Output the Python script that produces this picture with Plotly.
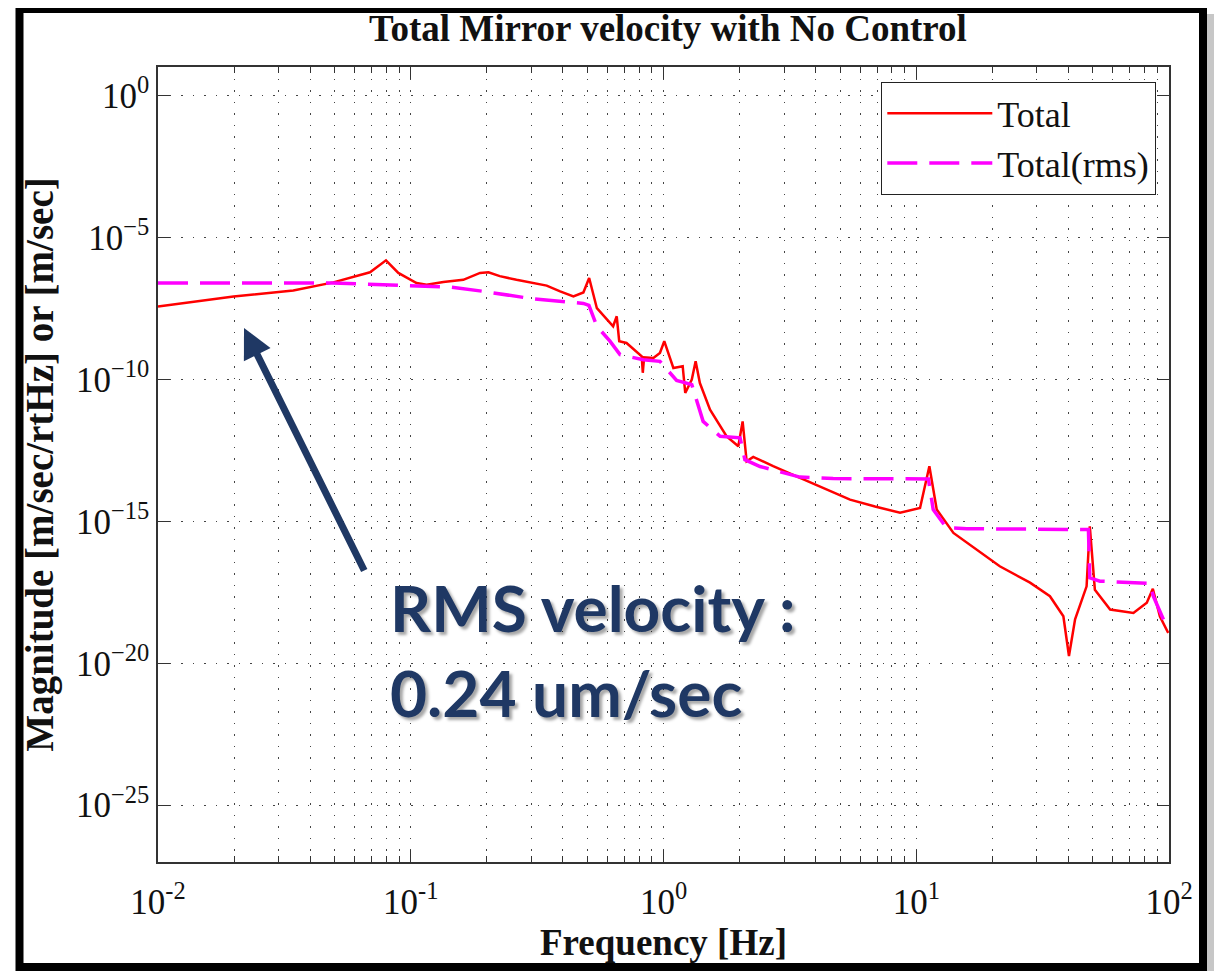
import plotly.graph_objects as go

# ---------------- data ----------------
freq_total = [0.0100, 0.0199, 0.0343, 0.0494, 0.0690, 0.0798, 0.0893, 0.1054, 0.1156, 0.1346,
              0.1614, 0.188, 0.203, 0.225, 0.262, 0.345, 0.390, 0.440, 0.482, 0.508,
              0.545, 0.632, 0.653, 0.668, 0.714, 0.820, 0.828, 0.838, 0.912, 0.968,
              1.007, 1.094, 1.191, 1.219, 1.294, 1.340, 1.393, 1.528, 1.778, 1.977,
              2.056, 2.133, 2.265, 2.716, 3.467, 5.47, 6.87, 8.63, 10.35, 11.27, 12.05,
              14.03, 21.4, 28.2, 33.8, 38.2, 40.2, 42.5, 47.2, 48.6, 50.9,
              58.5, 72.3, 81.7, 86.3, 92.0, 99.3]
vel_total = [3.7e-8, 8.3e-8, 1.35e-7, 2.6e-7, 5.9e-7, 1.55e-6, 5.6e-7, 2.45e-7, 2.14e-7, 2.7e-7,
             3.2e-7, 5.6e-7, 5.9e-7, 4.3e-7, 3.2e-7, 2.0e-7, 1.26e-7, 8.3e-8, 1.15e-7, 3.7e-7,
             3.2e-8, 7.4e-9, 1.66e-8, 2.2e-9, 1.9e-9, 6.5e-10, 1.7e-10, 5.9e-10, 5.6e-10, 8.5e-10,
             2.2e-9, 2.5e-10, 2.9e-10, 3.3e-11, 9.8e-11, 4.3e-10, 7.4e-11, 8.5e-12, 9.8e-13, 4.4e-13,
             3.3e-12, 1.29e-13, 1.86e-13, 8.7e-14, 3.4e-14, 5.8e-15, 3.3e-15, 2.0e-15, 2.95e-15, 8.7e-14, 2.6e-15,
             3.9e-16, 2.6e-17, 6.9e-18, 2.3e-18, 4.5e-19, 1.8e-20, 3.5e-19, 5.1e-18, 6.6e-16, 3.9e-18,
             7.8e-19, 5.9e-19, 1.35e-18, 4.2e-18, 4.5e-19, 1.17e-19]

freq_rms = [0.0100, 0.0492, 0.0778, 0.143, 0.193, 0.305, 0.482, 0.507, 0.545, 0.614,
            0.673, 0.832, 0.968, 1.127, 1.294, 1.352, 1.435, 1.675, 2.009, 2.099,
            2.410, 3.467, 4.69, 11.17, 11.67, 13.18, 15.85, 48.0, 48.6, 53.3,
            84.1, 86.7, 96.4, 100.0]
vel_rms = [2.45e-7, 2.45e-7, 2.14e-7, 1.78e-7, 1.26e-7, 6.8e-8, 4.7e-8, 4.0e-8, 7.4e-9, 2.2e-9,
           7.4e-10, 4.9e-10, 4.3e-10, 9.1e-11, 6.5e-11, 1.95e-11, 3.3e-12, 9.8e-13, 8.7e-13, 1.48e-13,
           8.5e-14, 3.6e-14, 3.2e-14, 3.1e-14, 2.6e-15, 5.9e-16, 5.5e-16, 5.1e-16, 1.02e-17, 7.8e-18,
           6.5e-18, 2.3e-18, 2.6e-19, 1.55e-19]

series_names = ["Total", "Total(rms)"]

x_tick_vals = [1e-2, 1e-1, 1e0, 1e1, 1e2]
x_tick_text = ["10<sup>-2</sup>", "10<sup>-1</sup>", "10<sup>0</sup>", "10<sup>1</sup>", "10<sup>2</sup>"]
y_tick_vals = [1e0, 1e-5, 1e-10, 1e-15, 1e-20, 1e-25]
y_tick_text = ["10<sup>0</sup>", "10<sup>−5</sup>", "10<sup>−10</sup>", "10<sup>−15</sup>",
               "10<sup>−20</sup>", "10<sup>−25</sup>"]
x_minor_vals = [m * 10.0 ** d for d in range(-2, 2) for m in range(2, 10)]

title_text = "Total Mirror velocity with No Control"
x_title = "Frequency [Hz]"
y_title = "Magnitude [m/sec/rtHz] or [m/sec]"
note_line1 = "RMS velocity :"
note_line2 = "0.24 um/sec"

# ---------------- styling ----------------
SERIF = "Liberation Serif, Times New Roman, serif"
NAVY = "#1F3864"
AX = "#333333"
GRID = "#444444"
GRID_DASH = "1.5px,10px"

# the page body adds an 8px margin: figure is drawn at page offset (8, 8)
W, H = 1215, 963
PL, PR, PT, PB = 158, 1169, 67, 862   # plot area in page pixels
OFF = 8

fig = go.Figure()
fig.add_trace(go.Scatter(x=freq_total, y=vel_total, mode="lines", name=series_names[0],
                         line=dict(color="#ff0000", width=2.5)))
fig.add_trace(go.Scatter(x=freq_rms, y=vel_rms, mode="lines", name=series_names[1],
                         line=dict(color="#ff00ff", width=3.5, dash="30px,12px")))

axis_common = dict(
    type="log", showline=True, linecolor=AX, linewidth=1.5, mirror="ticks",
    ticks="inside", ticklen=12, tickcolor=AX, tickwidth=1.3,
    showgrid=True, gridcolor=GRID, gridwidth=1, griddash=GRID_DASH,
    zeroline=False, tickmode="array",
    tickfont=dict(family=SERIF, size=35, color="#111"),
)

fig.update_layout(
    width=W, height=H, autosize=False,
    margin=dict(l=PL - OFF, r=W - (PR - OFF), t=PT - OFF, b=H - (PB - OFF)),
    paper_bgcolor="white", plot_bgcolor="white",
    title=dict(text=title_text, x=(668 - PL) / (PR - PL), xref="paper",
               y=1 - (28 - OFF) / H, yref="container",
               xanchor="center", yanchor="middle",
               font=dict(family=SERIF, size=37, color="#111", weight="bold")),
    xaxis=dict(axis_common, range=[-2, 2], tickvals=x_tick_vals, ticktext=x_tick_text,
               ticklabelstandoff=8,
               minor=dict(tickmode="array", tickvals=x_minor_vals, ticks="inside", ticklen=6,
                          tickcolor=AX, showgrid=True, gridcolor=GRID, griddash=GRID_DASH, gridwidth=1),
               title=dict(text=x_title, standoff=2,
                          font=dict(family=SERIF, size=37, color="#111", weight="bold"))),
    yaxis=dict(axis_common, range=[-27, 1], tickvals=y_tick_vals, ticktext=y_tick_text,
               ticklabelstandoff=0,
               title=dict(text=y_title, standoff=10,
                          font=dict(family=SERIF, size=39, color="#111", weight="bold"))),
    legend=dict(x=(1156 - PL) / (PR - PL), y=(PB - 82) / (PB - PT), xanchor="right", yanchor="top",
                bgcolor="white", bordercolor="#222", borderwidth=1.3,
                font=dict(family=SERIF, size=36, color="#111"),
                itemwidth=105, tracegroupgap=0),
    showlegend=True,
)


def px_x(x):
    return (x - PL) / float(PR - PL)


def px_y(y):
    return (PB - y) / float(PB - PT)


annotations = []
for txt, yc in [(note_line1, 607), (note_line2, 692)]:
    annotations.append(dict(text=txt, x=px_x(388), y=px_y(yc), xref="paper", yref="paper",
                            xanchor="left", yanchor="middle", showarrow=False,
                            font=dict(family="Lato, Open Sans, sans-serif", size=64,
                                      color=NAVY, weight="bold",
                                      shadow="3px 3px 3px rgba(0,0,0,0.35)")))
annotations.append(dict(text="", x=px_x(244), y=px_y(328), xref="paper", yref="paper",
                        ax=365 - 244, ay=572 - 328, axref="pixel", ayref="pixel",
                        showarrow=True, arrowhead=2, arrowsize=0.85, arrowwidth=7,
                        arrowcolor=NAVY, standoff=0, startstandoff=0))
fig.update_layout(annotations=annotations)

# outer slide frame + shadow
fig.add_shape(type="rect", xref="paper", yref="paper",
              x0=px_x(1207), x1=px_x(1214), y0=px_y(975), y1=px_y(14),
              line=dict(width=0), fillcolor="rgba(0,0,0,0.22)", layer="above")
fig.add_shape(type="rect", xref="paper", yref="paper",
              x0=px_x(19.5), x1=px_x(1203), y0=px_y(967), y1=px_y(9),
              line=dict(color="black", width=8), fillcolor="rgba(0,0,0,0)", layer="above")

fig.write_html("out.html")
